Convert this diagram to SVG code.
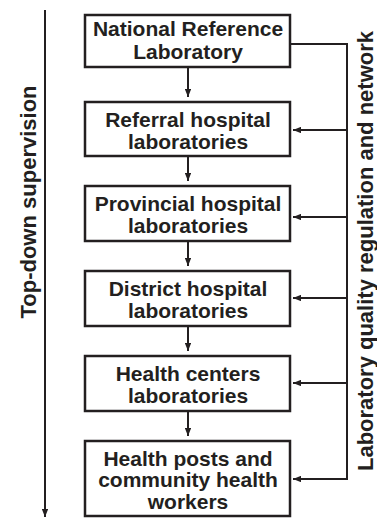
<svg xmlns="http://www.w3.org/2000/svg" width="377" height="518" viewBox="0 0 377 518">
  <style>
    .box { fill: #ffffff; stroke: #231f20; stroke-width: 2.5; }
    .lbl { font-family: "Liberation Sans", Arial, Helvetica, sans-serif; font-weight: bold; font-size: 21px; fill: #231f20; text-anchor: middle; }
    .side { font-family: "Liberation Sans", Arial, Helvetica, sans-serif; font-weight: bold; font-size: 22px; fill: #231f20; text-anchor: middle; }
    .wire { fill: none; stroke: #231f20; stroke-width: 2; }
  </style>
  <defs>
    <marker id="head" viewBox="0 0 10 8" refX="10" refY="4" markerWidth="8" markerHeight="6.4" markerUnits="userSpaceOnUse" orient="auto">
      <path d="M0,0 L10,4 L0,8 Z" fill="#231f20"/>
    </marker>
  </defs>

  <rect width="377" height="518" fill="#ffffff"/>

  <!-- side labels -->
  <text class="side" transform="translate(36,202) rotate(-90)">Top-down supervision</text>
  <text class="side" transform="translate(373,251) rotate(-90)">Laboratory quality regulation and network</text>

  <g id="connectors">
    <!-- supervision axis -->
    <line class="wire" x1="45" y1="10" x2="45" y2="517" marker-end="url(#head)"/>
    <!-- downward chain -->
    <line class="wire" x1="188" y1="68" x2="188" y2="97" marker-end="url(#head)"/>
    <line class="wire" x1="188" y1="157" x2="188" y2="181" marker-end="url(#head)"/>
    <line class="wire" x1="188" y1="242" x2="188" y2="266" marker-end="url(#head)"/>
    <line class="wire" x1="188" y1="327" x2="188" y2="351" marker-end="url(#head)"/>
    <line class="wire" x1="188" y1="412" x2="188" y2="436" marker-end="url(#head)"/>
    <!-- regulation network bus -->
    <polyline class="wire" points="291,44 347,44 347,479"/>
    <line class="wire" x1="347" y1="130" x2="293" y2="130" marker-end="url(#head)"/>
    <line class="wire" x1="347" y1="217" x2="293" y2="217" marker-end="url(#head)"/>
    <line class="wire" x1="347" y1="298" x2="293" y2="298" marker-end="url(#head)"/>
    <line class="wire" x1="347" y1="383" x2="293" y2="383" marker-end="url(#head)"/>
    <line class="wire" x1="348" y1="479" x2="293" y2="479" marker-end="url(#head)"/>
  </g>

  <g id="national">
    <rect class="box" x="85" y="15" width="205" height="52"/>
    <text class="lbl" x="188" y="36">National Reference</text>
    <text class="lbl" x="188" y="59">Laboratory</text>
  </g>
  <g id="referral">
    <rect class="box" x="85" y="102" width="205" height="54"/>
    <text class="lbl" x="188" y="126.5">Referral hospital</text>
    <text class="lbl" x="188" y="148.5">laboratories</text>
  </g>
  <g id="provincial">
    <rect class="box" x="85" y="186" width="205" height="55"/>
    <text class="lbl" x="188" y="211">Provincial hospital</text>
    <text class="lbl" x="188" y="233">laboratories</text>
  </g>
  <g id="district">
    <rect class="box" x="85" y="271" width="205" height="55"/>
    <text class="lbl" x="188" y="296">District hospital</text>
    <text class="lbl" x="188" y="318">laboratories</text>
  </g>
  <g id="health-centers">
    <rect class="box" x="85" y="356" width="205" height="55"/>
    <text class="lbl" x="188" y="381">Health centers</text>
    <text class="lbl" x="188" y="403">laboratories</text>
  </g>
  <g id="health-posts">
    <rect class="box" x="85" y="441" width="205" height="75"/>
    <text class="lbl" x="188" y="465.5">Health posts and</text>
    <text class="lbl" x="188" y="487">community health</text>
    <text class="lbl" x="188" y="508.5">workers</text>
  </g>
</svg>
